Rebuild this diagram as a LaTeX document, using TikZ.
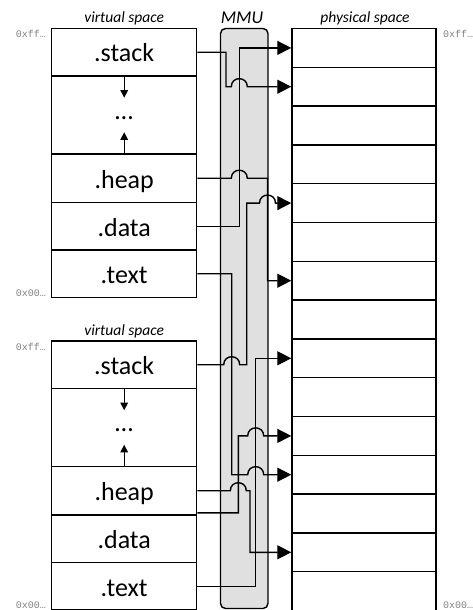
\documentclass[tikz,border=0pt]{standalone}
\usepackage{fontspec}
\setmainfont{Carlito}
\newfontfamily\addrfont{Liberation Mono}
\usetikzlibrary{arrows.meta,calc}

\newcommand\segfont{\fontsize{26}{28}\selectfont}
\newcommand\capfont{\fontsize{15.5}{17}\selectfont\itshape}
\newcommand\mmufont{\fontsize{18}{20}\selectfont\itshape}
\newcommand\addrsize{\addrfont\fontsize{10}{11}\selectfont}

\tikzset{
  seg/.style={draw, line width=1.4pt, minimum width=145pt, minimum height=#1,
    inner sep=0pt, font=\segfont, text height=19.5pt, text depth=0pt},
  prow/.style={draw, line width=1.5pt, minimum width=144pt, minimum height=38.8pt, inner sep=0pt},
  conn/.style={line width=1.4pt, -{Triangle[length=14pt,width=14pt]}},
  growarrow/.style={line width=1.4pt, -{Triangle[length=7.5pt,width=7.5pt]}},
  captiontext/.style={font=\capfont, inner sep=0pt, anchor=base},
  addr/.style={font=\addrsize, text=black!50, inner sep=0pt},
  hop/.style 2 args={insert path={-- ($(#1 |- #2)+(-8,0)$)
      .. controls +(0,-10.7) and +(0,-10.7) .. ($(#1 |- #2)+(8,0)$)}}
}

\begin{document}
\begin{tikzpicture}[x=1pt, y=-1pt]
  \useasboundingbox (0,0) rectangle (473,610);

  % MMU band
  \node[draw, fill=black!12, line width=1.4pt, rounded corners=5pt,
        minimum width=47.5pt, minimum height=580pt, inner sep=0pt] (mmu) at (244.25,318.5) {};

  % first virtual address space
  \node[seg=47.5pt] (s1) at (124.2,52.25) {.stack};
  \node[seg=78pt]   (g1) at (124.2,115) {};
  \node[seg=48.5pt] (h1) at (124.2,178.25) {.heap};
  \node[seg=47.5pt] (d1) at (124.2,226.25) {.data};
  \node[seg=47.5pt] (t1) at (124.2,273.75) {.text};
  \node[font=\segfont, inner sep=0pt, anchor=base] (e1) at (124.2,119) {\dots};
  \draw[growarrow] (s1.south) -- ++(0,21);
  \draw[growarrow] (h1.north) -- ++(0,-21);

  % second virtual address space
  \node[seg=47.5pt] (s2) at (124.2,364.75) {.stack};
  \node[seg=78pt]   (g2) at (124.2,427.5) {};
  \node[seg=48.5pt] (h2) at (124.2,490.75) {.heap};
  \node[seg=47.5pt] (d2) at (124.2,538.75) {.data};
  \node[seg=47.5pt] (t2) at (124.2,586.25) {.text};
  \node[font=\segfont, inner sep=0pt, anchor=base] (e2) at (124.2,431.5) {\dots};
  \draw[growarrow] (s2.south) -- ++(0,21);
  \draw[growarrow] (h2.north) -- ++(0,-21);

  % physical frames
  \foreach \k in {1,...,15}
    \node[prow] (p\k) at (364,{28.5+38.8*(\k-0.5)}) {};

  % captions
  \node[captiontext] (cv1) at (124.2,22.5) {virtual space};
  \node[captiontext] (cm)  at (242,23.3) {\mmufont MMU};
  \node[captiontext] (cp)  at (365,22.5) {physical space};
  \node[captiontext] (cv2) at (124.2,335) {virtual space};

  % address bounds
  \node[addr, anchor=base east] (a1) at (46,37.5)  {0xff…};
  \node[addr, anchor=base east] (a2) at (46,296)   {0x00…};
  \node[addr, anchor=base east] (a3) at (46,350.5) {0xff…};
  \node[addr, anchor=base east] (a4) at (46,608.5) {0x00…};
  \node[addr, anchor=base west] (a5) at (443,37.5)  {0xff…};
  \node[addr, anchor=base west] (a6) at (443,608.5) {0x00…};

  % routing channels inside the MMU
  \coordinate (chA) at (226,0);
  \coordinate (chB) at (231.7,0);
  \coordinate (chF) at (238.3,0);
  \coordinate (chC) at (239.3,0);
  \coordinate (chD) at (246.7,0);
  \coordinate (chE) at (250,0);
  \coordinate (chG) at (255.7,0);
  \coordinate (chH) at (267.5,0);
  \coordinate (d2out) at ($(d2.north east)+(0,-1.5)$);

  % mappings, first space
  \draw[conn] (s1.east) -- (s1.east -| chA) -- (chA |- p2.west)
              [hop={chC}{p2.west}] -- (p2.west);
  \draw[conn] (h1.east) [hop={chC}{h1.east}] -- (h1.east -| chH)
              -- (chH |- p7.west) -- (p7.west);
  \draw[conn] (d1.east) -- (d1.east -| chC) -- (chC |- p1.west) -- (p1.west);
  \draw[conn] (t1.east) -- (t1.east -| chB) -- (chB |- p12.west)
              [hop={chG}{p12.west}] -- (p12.west);

  % mappings, second space
  \draw[conn] (s2.east) [hop={chB}{s2.east}] -- (s2.east -| chD)
              -- (chD |- p5.west) [hop={chH}{p5.west}] -- (p5.west);
  \draw[conn] (h2.east) [hop={chF}{h2.east}] -- (h2.east -| chE)
              -- (chE |- p14.west) -- (p14.west);
  \draw[conn] (d2out) -- (d2out -| chF) -- (chF |- p11.west)
              [hop={chG}{p11.west}] -- (p11.west);
  \draw[conn] (t2.east) -- (t2.east -| chG) -- (chG |- p9.west) -- (p9.west);
\end{tikzpicture}
\end{document}
